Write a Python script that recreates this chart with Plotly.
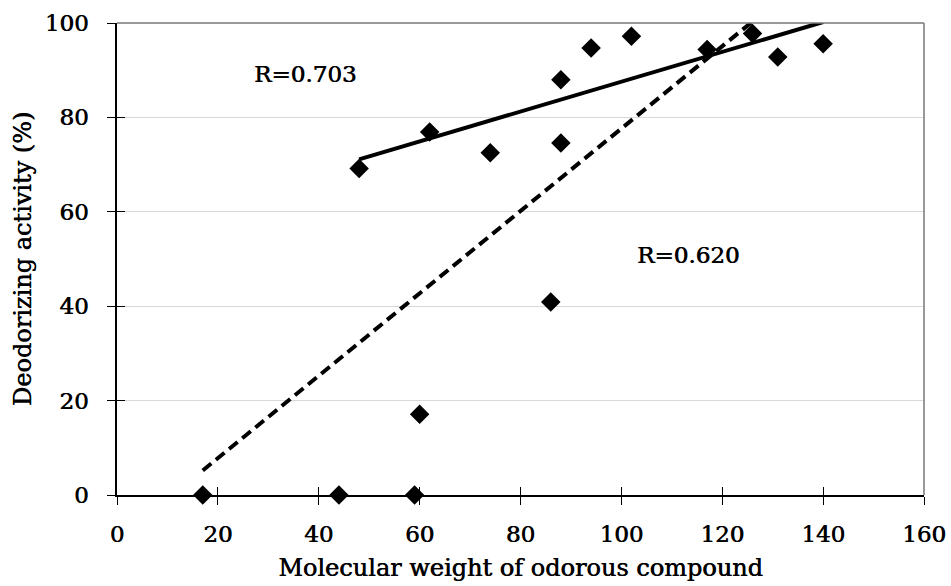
import numpy as np
import plotly.graph_objects as go

# Molecular weight of each odorous compound and the measured deodorizing activity (%)
mol_weight = [17, 44, 59, 60, 48, 62, 74, 86, 88, 88, 94, 102, 117, 126, 131, 140]
activity = [0.0, 0.0, 0.0, 17.1, 69.2, 76.9, 72.5, 40.9, 88.0, 74.6, 94.7, 97.2, 94.4, 97.8, 92.8, 95.6]

x_ticks = [0, 20, 40, 60, 80, 100, 120, 140, 160]
y_ticks = [0, 20, 40, 60, 80, 100]

r_labels = ["R=0.703", "R=0.620"]
r_label_x = [37.3, 113.2]
r_label_y = [89.3, 50.8]

x_title = "Molecular weight of odorous compound"
y_title = "Deodorizing activity (%)"

FONT = "DejaVu Serif"
HEAVY = "0.6px 0px 0px #000000"  # slight horizontal smear to give the serif face more weight
x = np.array(mol_weight, dtype=float)
y = np.array(activity, dtype=float)

# Linear fits: all compounds (dashed) and the high-activity group (solid)
high = y > 60
k_all, b_all = np.polyfit(x, y, 1)
k_hi, b_hi = np.polyfit(x[high], y[high], 1)
xa = np.array([x.min(), x.max()])
xh = np.array([x[high].min(), x[high].max()])

fig = go.Figure()
fig.add_trace(go.Scatter(
    x=xa, y=k_all * xa + b_all, mode="lines",
    line=dict(color="black", width=4, dash="11px,6px"),
    hoverinfo="skip", showlegend=False))
fig.add_trace(go.Scatter(
    x=xh, y=k_hi * xh + b_hi, mode="lines",
    line=dict(color="black", width=4),
    hoverinfo="skip", showlegend=False))
fig.add_trace(go.Scatter(
    x=x, y=y, mode="markers",
    marker=dict(symbol="diamond", size=15, color="black", line=dict(width=0)),
    cliponaxis=False, showlegend=False))
# carrier for the overlay axes that draw the inner half of each tick
fig.add_trace(go.Scatter(x=[None], y=[None], xaxis="x2", yaxis="y2",
                         showlegend=False, hoverinfo="skip"))

label_font = dict(family=FONT, size=23, color="#000000", shadow=HEAVY)
for txt, tx, ty in zip(r_labels, r_label_x, r_label_y):
    fig.add_annotation(x=tx, y=ty, text=txt, showarrow=False, font=label_font)

axis_font = dict(family=FONT, size=23, color="#000000", shadow=HEAVY)
title_font = dict(family=FONT, size=24, color="#000000", shadow=HEAVY)
fig.update_layout(
    width=951, height=586,
    margin=dict(l=117, r=27, t=23, b=91, autoexpand=False),
    paper_bgcolor="white", plot_bgcolor="white",
    xaxis=dict(range=[0, 160], tickvals=x_ticks, ticks="outside", ticklen=8,
               tickwidth=1.2, tickcolor="black", showline=True, linecolor="black",
               linewidth=2, showgrid=False, zeroline=False, tickfont=axis_font,
               ticklabelstandoff=9, automargin=False,
               title=dict(text=x_title, font=title_font, standoff=14)),
    yaxis=dict(range=[0, 100], tickvals=y_ticks, ticks="outside", ticklen=8,
               tickwidth=1.2, tickcolor="black", showline=True, linecolor="black",
               linewidth=1.5, showgrid=True, gridcolor="#d9d9d9", gridwidth=1.2,
               zeroline=False, tickfont=axis_font, ticklabelstandoff=14,
               automargin=False,
               title=dict(text=y_title, font=title_font, standoff=6)),
    xaxis2=dict(range=[0, 160], tickvals=x_ticks, ticks="inside", ticklen=8,
                tickwidth=1.2, tickcolor="black", overlaying="x", anchor="y2",
                showticklabels=False, showgrid=False, zeroline=False, showline=False),
    yaxis2=dict(range=[0, 100], tickvals=y_ticks, ticks="inside", ticklen=8,
                tickwidth=1.2, tickcolor="black", overlaying="y", anchor="x2",
                showticklabels=False, showgrid=False, zeroline=False, showline=False),
    shapes=[
        dict(type="line", xref="paper", yref="paper", x0=0, x1=1, y0=1, y1=1,
             line=dict(color="#777777", width=1.5)),
        dict(type="line", xref="paper", yref="paper", x0=1, x1=1, y0=0, y1=1,
             line=dict(color="#777777", width=1.5)),
    ],
)

fig.write_html("out.html")
